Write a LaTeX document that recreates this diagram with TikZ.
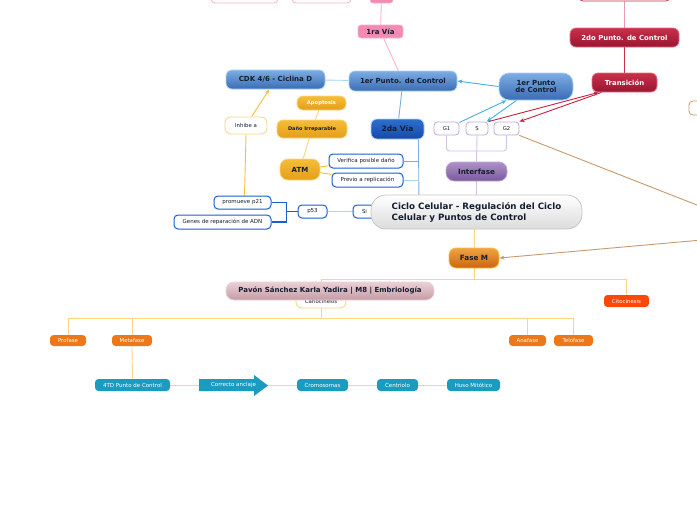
\documentclass[tikz,border=0pt]{standalone}
\usepackage{fontspec}
\setmainfont{DejaVu Sans}
\usetikzlibrary{arrows.meta}
\pgfdeclarelayer{background}
\pgfsetlayers{background,main}
\definecolor{bluetop}{HTML}{7DADE3}
\definecolor{bluebot}{HTML}{3A6CB4}
\definecolor{blueborder}{HTML}{A6D2F4}
\definecolor{dbluetop}{HTML}{2E6FD0}
\definecolor{dbluebot}{HTML}{1449A8}
\definecolor{wblueb}{HTML}{1A5FD0}
\definecolor{txtdark}{HTML}{141E30}
\definecolor{pinkf}{HTML}{F28AB2}
\definecolor{pinkb}{HTML}{F6B3CB}
\definecolor{crimtop}{HTML}{C9304A}
\definecolor{crimbot}{HTML}{9A1530}
\definecolor{crimb}{HTML}{E27088}
\definecolor{yeltop}{HTML}{F6BE3A}
\definecolor{yelbot}{HTML}{E39E1A}
\definecolor{yelb}{HTML}{F9D57A}
\definecolor{purtop}{HTML}{AD91C8}
\definecolor{purbot}{HTML}{7A5A9C}
\definecolor{purb}{HTML}{C0A6DA}
\definecolor{fmtop}{HTML}{F0A445}
\definecolor{fmbot}{HTML}{CC6410}
\definecolor{fmb}{HTML}{F5C33A}
\definecolor{pavtop}{HTML}{EBD0D6}
\definecolor{pavbot}{HTML}{C49CA6}
\definecolor{oran}{HTML}{EE7818}
\definecolor{redor}{HTML}{FF4708}
\definecolor{tealc}{HTML}{1A9CC0}
\definecolor{tanc}{HTML}{C49A6C}
\definecolor{ylinec}{HTML}{FDD485}
\definecolor{lbluel}{HTML}{A9D3F2}
\definecolor{arrbl}{HTML}{3FB0E8}
\definecolor{redl}{HTML}{C8203C}
\tikzset{
  nd/.style={rounded corners=6pt, align=center, inner sep=1pt, line width=0.8pt},
  bluen/.style={nd, top color=bluetop, bottom color=bluebot, draw=blueborder, text=txtdark, font=\fontsize{7}{8}\selectfont\bfseries},
  dbluen/.style={nd, top color=dbluetop, bottom color=dbluebot, draw=blueborder, text=txtdark, font=\fontsize{7.5}{9}\selectfont\bfseries},
  pinkn/.style={nd, rounded corners=3pt, fill=pinkf, draw=pinkb, text=txtdark, font=\fontsize{7}{8}\selectfont\bfseries},
  wpink/.style={nd, rounded corners=4pt, fill=white, draw=pinkb},
  crimn/.style={nd, top color=crimtop, bottom color=crimbot, draw=crimb, text=white, font=\fontsize{6.9}{8}\selectfont\bfseries},
  wcrim/.style={nd, rounded corners=4pt, fill=white, draw=crimtop},
  yeln/.style={nd, top color=yeltop, bottom color=yelbot, draw=yelb, text=txtdark, font=\fontsize{5}{6}\selectfont\bfseries},
  wyel/.style={nd, fill=white, draw=yelb, text=txtdark, font=\fontsize{5.4}{6.5}\selectfont},
  wblue/.style={nd, rounded corners=4pt, fill=white, draw=wblueb, line width=1pt, text=txtdark, font=\fontsize{5.5}{6.5}\selectfont},
  wpur/.style={nd, rounded corners=3.5pt, fill=white, draw=purb, text=txtdark, font=\fontsize{5.3}{6.5}\selectfont},
  purn/.style={nd, top color=purtop, bottom color=purbot, draw=purb, text=txtdark, font=\fontsize{7.2}{8}\selectfont\bfseries},
  centn/.style={nd, rounded corners=15pt, top color=white, bottom color=black!14, draw=black!22, text=txtdark, align=left, font=\fontsize{8.7}{11}\selectfont\bfseries},
  fasemn/.style={nd, top color=fmtop, bottom color=fmbot, draw=fmb, text=txtdark, font=\fontsize{7.2}{8}\selectfont\bfseries},
  pavn/.style={nd, rounded corners=8pt, top color=pavtop, bottom color=pavbot, draw=pavtop, text=txtdark, font=\fontsize{7}{8}\selectfont\bfseries},
  orn/.style={nd, rounded corners=3.5pt, fill=oran, text=white, font=\fontsize{5.4}{6}\selectfont},
  citon/.style={nd, rounded corners=3.5pt, fill=redor, text=white, font=\fontsize{5.4}{6}\selectfont},
  tealn/.style={nd, rounded corners=3.5pt, fill=tealc, text=white, font=\fontsize{5.5}{6.5}\selectfont},
  tann/.style={nd, rounded corners=4pt, fill=white, draw=tanc},
  edge/.style={line width=0.9pt},
  arr/.style={edge, -{Stealth[length=5pt,width=4pt]}},
}
\begin{document}
\begin{tikzpicture}[x=1pt,y=-1pt]
\path[use as bounding box] (0,0) rectangle (697,520);
\clip (0,0) rectangle (697,520);

% top partial nodes
\node[wpink, minimum width=67, minimum height=14] (topa) at (244.5,-4) {};
\node[wpink, minimum width=59, minimum height=14] (topb) at (321.5,-4) {};
\node[pinkn, minimum width=23, minimum height=14] (topp) at (381.5,-4) {};
\node[wcrim, minimum width=91, minimum height=14] (topc) at (624.5,-6) {};
\node[tann, minimum width=14, minimum height=14] (rbox) at (696,108) {};

% blue branch
\node[bluen, minimum width=99, minimum height=19] (cdk) at (275.5,79.5) {CDK 4/6 - Ciclina D};
\node[bluen, minimum width=108, minimum height=20] (p1) at (403,81) {1er Punto. de Control};
\node[bluen, rounded corners=10pt, minimum width=74, minimum height=27] (p1b) at (536,86.5) {1er Punto\\[-1pt]de Control};
\node[pinkn, minimum width=45, minimum height=13] (v1) at (380.5,31.5) {1ra Vía};
\node[crimn, minimum width=109, minimum height=19] (p2) at (624.5,37.5) {2do Punto. de Control};
\node[crimn, minimum width=65, minimum height=19] (tr) at (624.5,82.5) {Transición};
\node[dbluen, minimum width=53, minimum height=20] (v2) at (397.5,129) {2da Vía};

% yellow
\node[yeln, text=white, font=\fontsize{5.2}{6}\selectfont\bfseries, minimum width=49, minimum height=14] (apo) at (321.5,103) {Apoptosis};
\node[yeln, minimum width=70, minimum height=18] (dano) at (312,129) {Daño Irreparable};
\node[yeln, rounded corners=8pt, font=\fontsize{7}{8}\selectfont\bfseries, minimum width=40, minimum height=21] (atm) at (300,169.5) {ATM};
\node[wyel, minimum width=42, minimum height=17] (inh) at (246,125.5) {Inhibe a};

% white blue-bordered
\node[wblue, minimum width=74, minimum height=14] (ver) at (366,161) {Verifica posible daño};
\node[wblue, minimum width=71, minimum height=14] (prev) at (367.5,180) {Previo a replicación};
\node[wblue, minimum width=57, minimum height=13] (p21) at (242.5,202.5) {promueve p21};
\node[wblue, minimum width=97, minimum height=14] (genes) at (222.5,222) {Genes de reparación de ADN};
\node[wblue, minimum width=29, minimum height=13] (p53) at (312.5,211.5) {p53};
\node[wblue, inner xsep=0pt, minimum width=40, minimum height=13] (si) at (373,211.5) {\makebox[40pt][l]{\hspace{9pt}Si}};

% interfase
\node[wpur, minimum width=25, minimum height=13] (g1) at (446.5,128.5) {G1};
\node[wpur, minimum width=22, minimum height=13] (s) at (477,128.5) {S};
\node[wpur, minimum width=25, minimum height=13] (g2) at (506.5,128.5) {G2};
\node[purn, rounded corners=8pt, minimum width=61, minimum height=19] (inter) at (476.5,171.5) {Interfase};

% centre
\node[centn, minimum width=211, minimum height=34] (c) at (476.5,212) {Ciclo Celular - Regulación del Ciclo\\Celular y Puntos de Control};

% fase M
\node[fasemn, rounded corners=7pt, minimum width=50, minimum height=20] (fm) at (474,258) {Fase M};
\node[wyel, minimum width=50, minimum height=14] (cario) at (321,301) {Cariocinesis};
\node[pavn, minimum width=208, minimum height=18] (pav) at (330,291) {Pavón Sánchez Karla Yadira | M8 | Embriología};
\node[citon, minimum width=45, minimum height=12] (cito) at (626.5,301) {Citocinesis};
\node[orn, minimum width=36, minimum height=11] (pro) at (68,340.5) {Profase};
\node[orn, minimum width=40, minimum height=11] (meta) at (132,340.5) {Metafase};
\node[orn, minimum width=37, minimum height=11] (ana) at (527.5,340.5) {Anafase};
\node[orn, minimum width=39, minimum height=11] (telo) at (573.5,340.5) {Telofase};
\node[tealn, minimum width=75, minimum height=12] (td) at (132.5,385) {4TD Punto de Control};
\fill[tealc] (199,379) -- (254,379) -- (254,375) -- (268,385.5) -- (254,396) -- (254,391) -- (199,391) -- cycle;
\node[font=\fontsize{5.5}{6.5}\selectfont, text=white, inner sep=0pt, minimum width=69, minimum height=12] (anc) at (233.5,385) {\makebox[54pt][c]{Correcto anclaje}\hspace{15pt}};
\node[tealn, minimum width=51, minimum height=12] (cromo) at (322.5,385) {Cromosomas};
\node[tealn, minimum width=41, minimum height=12] (centr) at (397.5,385) {Centriolo};
\node[tealn, minimum width=53, minimum height=12] (huso) at (473.5,385) {Huso Mitótico};

\coordinate (tanA) at (702,207);
\coordinate (tanB) at (702,240);
\coordinate (vj) at (419,212);

\begin{pgfonlayer}{background}
  % pink / red links
  \draw[edge, pinkb] (topp) -- (v1);
  \draw[edge, pinkb] (v1) -- (p1);
  \draw[edge, crimb!70] (topc) -- (p2);
  \draw[edge, crimtop] (p2) -- (tr);
  % blue links
  \draw[edge, lbluel] (p1) -- (cdk);
  \draw[edge, bluetop] (p1) -- (v2);
  \draw[arr, arrbl] (p1b.west) -- (p1.east);
  \draw[arr, arrbl] (g1) -- (p1b);
  \draw[arr, arrbl] (p1b) -- (s);
  % red arrows
  \draw[arr, redl] (s.north east) -- ([xshift=-26pt]tr.south);
  \draw[arr, redl] ([xshift=-23pt]tr.south) -- (g2.north east);
  % 2da via tree
  \draw[edge, bluetop] ([xshift=21pt]v2.south) -- (vj) -- (si.east);
  \draw[edge, bluetop] (ver.east) -- (ver.east -| vj);
  \draw[edge, lbluel] (prev.east) -- (prev.east -| vj);
  \draw[edge, lbluel] (p53) -- (si);
  \draw[edge, wblueb, line width=1.1pt] (p53.west) -- ++(-11,0) coordinate (pj) |- (p21.east);
  \draw[edge, wblueb, line width=1.1pt] (pj) |- (genes.east);
  % yellow
  \draw[edge, yelb] (apo) -- (dano);
  \draw[edge, yelb] (dano) -- (atm);
  \draw[edge, yeltop] (atm) -- (ver);
  \draw[edge, yeltop] (atm) -- (prev);
  \draw[arr, yeltop] (inh) -- (cdk);
  \draw[edge, yeltop] ([xshift=2pt]p21.north) -- (inh.south);
  % interfase
  \draw[edge, purb!70, rounded corners=3pt] (g1.south) |- (477,151) -| (g2.south);
  \draw[edge, purb!70] (s.south) -- (inter.north);
  \draw[edge, purb!70] (inter.south) -- (c.north -| inter);
  % tan
  \draw[edge, tanc] (g2.south east) -- (tanA);
  \draw[arr, tanc] (tanB) -- (fm.east);
  % fase M tree
  \draw[edge, ylinec] (c.south -| fm) -- (fm.north);
  \draw[edge, ylinec] (fm.south) -- ++(0,11) coordinate (fb);
  \draw[edge, ylinec] (fb) -| (cario.north);
  \draw[edge, ylinec] (fb) -| (cito.north);
  \draw[edge, ylinec] (cario.south) -- ++(0,10) coordinate (cb);
  \draw[edge, ylinec] (cb) -| (pro.north);
  \draw[edge, ylinec] (cb) -| (meta.north);
  \draw[edge, ylinec] (cb) -| (ana.north);
  \draw[edge, ylinec] (cb) -| (telo.north);
  \draw[edge, ylinec] (meta.south) -- (td.north);
  \draw[edge, ylinec] (td.east) -- (anc.west);
  \draw[edge, ylinec] (anc.east) -- (cromo.west);
  \draw[edge, ylinec] (cromo.east) -- (centr.west);
  \draw[edge, ylinec] (centr.east) -- (huso.west);
\end{pgfonlayer}
\end{tikzpicture}
\end{document}
